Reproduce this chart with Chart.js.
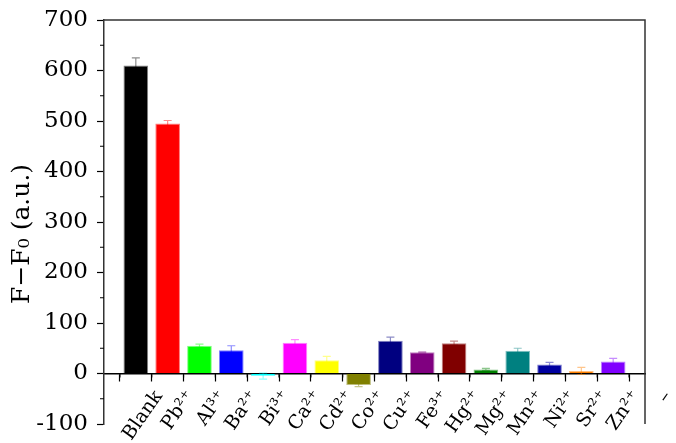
<!DOCTYPE html>
<html>
<head>
<meta charset="utf-8">
<script src="https://cdn.jsdelivr.net/npm/chart.js@4/dist/chart.umd.min.js"></script>
<style>
  html, body { margin: 0; padding: 0; background: #fff; }
  #wrap { width: 676px; height: 443px; }
</style>
</head>
<body>
<div id="wrap"><canvas id="chart"></canvas></div>
<script>
// categories (first/last slots are the empty ends of the axis)
const categories = ['', 'Blank', 'Pb²⁺', 'Al³⁺', 'Ba²⁺', 'Bi³⁺', 'Ca²⁺', 'Cd²⁺', 'Co²⁺', 'Cu²⁺',
                    'Fe³⁺', 'Hg²⁺', 'Mg²⁺', 'Mn²⁺', 'Ni²⁺', 'Sr²⁺', 'Zn²⁺', '–'];
const values = [null, 610, 495, 55, 46, -5, 61, 26, -23, 65, 42, 60, 8, 45, 18, 5, 24, null];
const errors = [null, 15, 6, 3, 9, 6, 6, 8, 3, 7, 1, 4, 2, 5, 4, 7, 6, null];
const colors = [null, '#000000', '#ff0000', '#00ff00', '#0000ff', '#00ffff', '#ff00ff', '#ffff00',
                '#808000', '#000080', '#800080', '#800000', '#008000', '#008080', '#0000a0',
                '#ff8000', '#8000ff', null];
const yTicks = { min: -100, max: 700, step: 100, minorStep: 50 };

function fade(hex, a) {
  if (!hex) return 'rgba(0,0,0,0)';
  const n = parseInt(hex.slice(1), 16);
  return `rgba(${(n >> 16) & 255},${(n >> 8) & 255},${n & 255},${a})`;
}

// error bars, drawn under the bars so the inner half is hidden like in Origin
const errorBars = {
  id: 'errorBars',
  beforeDatasetsDraw(chart) {
    const { ctx, scales: { x, y } } = chart;
    ctx.save();
    ctx.lineWidth = 1.2;
    values.forEach((v, i) => {
      if (v === null) return;
      const px = x.getPixelForValue(i);
      const top = y.getPixelForValue(v + errors[i]);
      const bot = y.getPixelForValue(v - errors[i]);
      ctx.strokeStyle = fade(colors[i], 0.45);
      ctx.beginPath();
      ctx.moveTo(px, top); ctx.lineTo(px, bot);
      ctx.moveTo(px - 4, top); ctx.lineTo(px + 4, top);
      ctx.moveTo(px - 4, bot); ctx.lineTo(px + 4, bot);
      ctx.stroke();
    });
    ctx.restore();
  },
};

// top/right frame lines and the minor ticks
const frame = {
  id: 'frame',
  afterDraw(chart) {
    const { ctx, chartArea: a, scales: { x, y } } = chart;
    ctx.save();
    ctx.strokeStyle = '#333';
    ctx.lineWidth = 1.5;
    ctx.beginPath();
    ctx.moveTo(a.left, a.top); ctx.lineTo(a.right, a.top); ctx.lineTo(a.right, a.bottom);
    ctx.stroke();
    ctx.lineWidth = 1.2;
    ctx.strokeStyle = '#000';
    ctx.beginPath();
    for (let v = yTicks.min + yTicks.minorStep; v < yTicks.max; v += yTicks.step) {
      const py = y.getPixelForValue(v);
      ctx.moveTo(a.left - 4, py); ctx.lineTo(a.left, py);
    }
    const y0 = y.getPixelForValue(0);
    for (let i = 0; i < categories.length - 1; i++) {
      const px = (x.getPixelForValue(i) + x.getPixelForValue(i + 1)) / 2;
      ctx.moveTo(px, y0); ctx.lineTo(px, y0 + 4);
    }
    ctx.stroke();
    ctx.restore();
  },
};

new Chart(document.getElementById('chart').getContext('2d'), {
  type: 'bar',
  data: {
    labels: categories,
    datasets: [{
      data: values,
      backgroundColor: colors.map(c => c || 'rgba(0,0,0,0)'),
      borderColor: colors.map(c => fade(c, 0.5)),
      borderWidth: 1,
      categoryPercentage: 1,
      barPercentage: 0.775,
    }],
  },
  options: {
    responsive: true,
    maintainAspectRatio: false,
    animation: false,
    events: [],
    layout: { padding: { left: 0, right: 31, top: 20, bottom: 19 } },
    plugins: { legend: { display: false }, tooltip: { enabled: false } },
    scales: {
      x: {
        type: 'category',
        position: { y: 0 },
        offset: false,
        afterFit(scale) {
          scale.height = 0;
          scale.paddingLeft = 0;
          scale.paddingRight = 0;
        },
        grid: { drawOnChartArea: false, drawTicks: true, tickLength: 7, tickColor: '#000', tickWidth: 1.2 },
        border: { display: true, color: '#000', width: 1.5 },
        ticks: {
          color: '#000',
          font: { family: 'DejaVu Serif', size: 19 },
          autoSkip: false,
          minRotation: 55,
          maxRotation: 55,
          labelOffset: 23,
          padding: 6,
        },
      },
      y: {
        min: yTicks.min,
        max: yTicks.max,
        afterFit(scale) {
          scale.width = 104;
          scale.paddingTop = 0;
          scale.paddingBottom = 0;
        },
        grid: { drawOnChartArea: false, drawTicks: true, tickLength: 7, tickColor: '#000', tickWidth: 1.2 },
        border: { display: true, color: '#333', width: 1.5 },
        ticks: {
          stepSize: yTicks.step,
          color: '#000',
          font: { family: 'DejaVu Serif', size: 23 },
          padding: 9,
        },
        title: {
          display: true,
          text: 'F−F₀ (a.u.)   ',
          color: '#000',
          font: { family: 'DejaVu Serif', size: 25 },
          padding: { top: 7, bottom: 0 },
        },
      },
    },
  },
  plugins: [errorBars, frame],
});
</script>
</body>
</html>
